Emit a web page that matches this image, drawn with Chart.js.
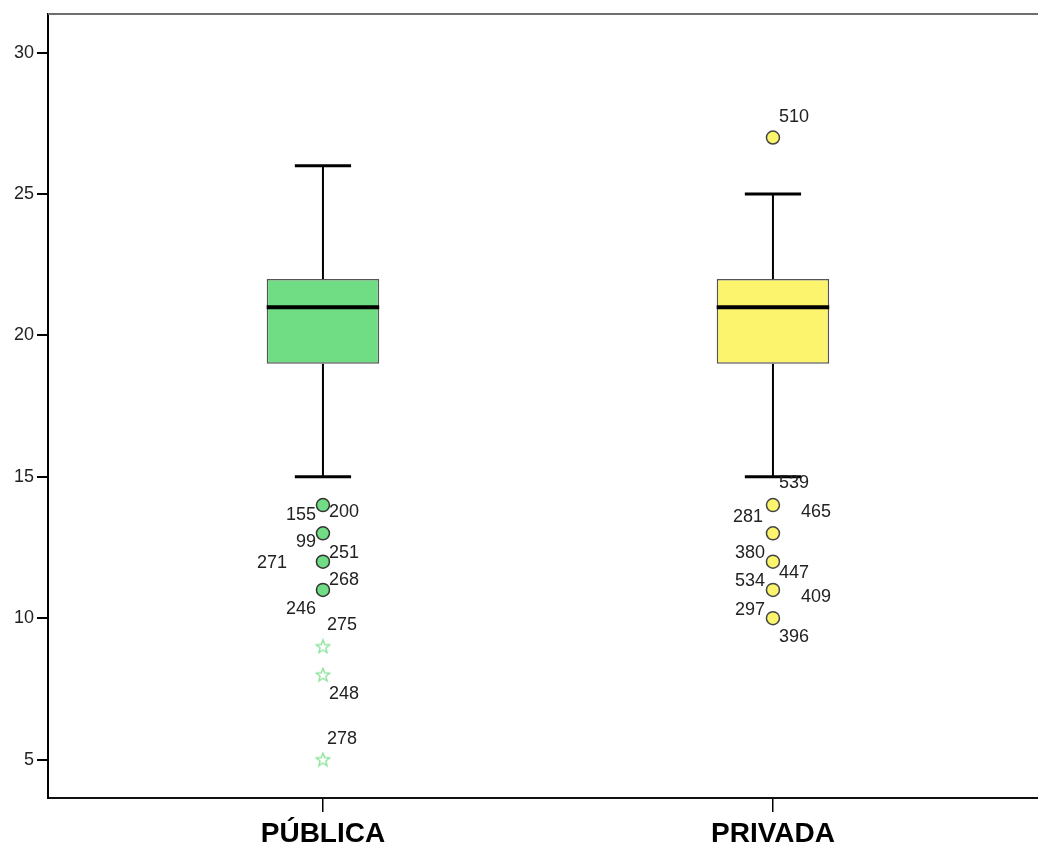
<!DOCTYPE html>
<html>
<head>
<meta charset="utf-8">
<script src="https://cdn.jsdelivr.net/npm/chart.js@4/dist/chart.umd.min.js"></script>
<style>
  body { margin: 0; background: #fff; }
  #caixa { width: 1038px; height: 846px; }
</style>
</head>
<body>
<div id="caixa"><canvas id="grafico"></canvas></div>
<script>
// Dados do boxplot
const categorias = ["PÚBLICA", "PRIVADA"];
const posicoes = [1, 2];
const bigodeInf = [15, 15];
const q1 = [19, 19];
const mediana = [21, 21];
const q3 = [22, 22];
const bigodeSup = [26, 25];
const ticksY = [5, 10, 15, 20, 25, 30];

// valores atípicos (círculos) e extremos (estrelas)
const atipicosPublica = [14, 13, 12, 11];
const extremosPublica = [9, 8, 5];
const atipicosPrivada = [27, 14, 13, 12, 11, 10];

// números dos casos e o valor em que aparecem
const casosPublica = ["155", "200", "99", "251", "271", "268", "246", "275", "248", "278"];
const valoresCasosPublica = [14, 14, 13, 12, 12, 11, 11, 9, 8, 5];
const casosPrivada = ["510", "539", "281", "465", "380", "447", "534", "409", "297", "396"];
const valoresCasosPrivada = [27, 14, 14, 14, 12, 12, 11, 11, 10, 10];

// posição dos rótulos em relação ao ponto: [dx, alinhamento, dy]
const deslocPublica = [
  [-7, "right", 10], [6, "left", 7], [-7, "right", 9], [6, "left", -9], [-36, "right", 1],
  [6, "left", -10], [-7, "right", 19], [4, "left", -21], [6, "left", 19], [4, "left", -21]
];
const deslocPrivada = [
  [6, "left", -21], [6, "left", -22], [-10, "right", 12], [28, "left", 7], [-8, "right", -9],
  [6, "left", 11], [-8, "right", -9], [28, "left", 7], [-8, "right", -8], [6, "left", 19]
];

const VERDE = "#70dc84";
const AMARELO = "#fbf46c";
const FONTE = '"Liberation Sans", Arial, sans-serif';

// estrela de 5 pontas só com contorno
function criarEstrela(cor) {
  const c = document.createElement("canvas");
  c.width = 16; c.height = 16;
  const g = c.getContext("2d");
  g.strokeStyle = cor;
  g.lineWidth = 1.4;
  g.beginPath();
  for (let i = 0; i < 10; i++) {
    const r = i % 2 === 0 ? 7 : 3;
    const a = -Math.PI / 2 + i * Math.PI / 5;
    const px = 8 + r * Math.cos(a), py = 8.5 + r * Math.sin(a);
    if (i === 0) g.moveTo(px, py); else g.lineTo(px, py);
  }
  g.closePath();
  g.stroke();
  return c;
}

const pluginBoxplot = {
  id: "boxplot",
  beforeDatasetsDraw(chart) {
    const { ctx, scales: { x, y } } = chart;
    const barras = chart.getDatasetMeta(0).data;
    ctx.save();
    ctx.strokeStyle = "#000";
    posicoes.forEach((p, i) => {
      const cx = x.getPixelForValue(p);
      const meia = barras[i].width / 4;
      ctx.lineWidth = 2;
      ctx.beginPath();
      ctx.moveTo(cx, y.getPixelForValue(bigodeSup[i]));
      ctx.lineTo(cx, y.getPixelForValue(q3[i]));
      ctx.moveTo(cx, y.getPixelForValue(q1[i]));
      ctx.lineTo(cx, y.getPixelForValue(bigodeInf[i]));
      ctx.stroke();
      ctx.lineWidth = 3;
      ctx.beginPath();
      ctx.moveTo(cx - meia, y.getPixelForValue(bigodeSup[i]));
      ctx.lineTo(cx + meia, y.getPixelForValue(bigodeSup[i]));
      ctx.moveTo(cx - meia, y.getPixelForValue(bigodeInf[i]));
      ctx.lineTo(cx + meia, y.getPixelForValue(bigodeInf[i]));
      ctx.stroke();
    });
    ctx.restore();
  },
  afterDatasetsDraw(chart) {
    const { ctx, chartArea, scales: { x, y } } = chart;
    const barras = chart.getDatasetMeta(0).data;
    ctx.save();
    // medianas
    ctx.strokeStyle = "#000";
    ctx.lineWidth = 4;
    posicoes.forEach((p, i) => {
      const b = barras[i];
      const yy = y.getPixelForValue(mediana[i]);
      ctx.beginPath();
      ctx.moveTo(b.x - b.width / 2, yy);
      ctx.lineTo(b.x + b.width / 2, yy);
      ctx.stroke();
    });
    // linha de cima do quadro
    ctx.strokeStyle = "#6e6e6e";
    ctx.lineWidth = 2;
    ctx.beginPath();
    ctx.moveTo(chartArea.left, chartArea.top);
    ctx.lineTo(chart.width, chartArea.top);
    ctx.stroke();
    // rótulos dos casos
    ctx.fillStyle = "#222";
    ctx.font = "18px " + FONTE;
    ctx.textBaseline = "middle";
    const escrever = (casos, valores, desloc, pos) => {
      const cx = x.getPixelForValue(pos);
      casos.forEach((txt, i) => {
        const [dx, al, dy] = desloc[i];
        ctx.textAlign = al;
        ctx.fillText(txt, cx + dx, y.getPixelForValue(valores[i]) + dy);
      });
    };
    escrever(casosPublica, valoresCasosPublica, deslocPublica, posicoes[0]);
    escrever(casosPrivada, valoresCasosPrivada, deslocPrivada, posicoes[1]);
    ctx.restore();
  }
};

new Chart(document.getElementById("grafico"), {
  data: {
    datasets: [
      {
        type: "bar",
        data: posicoes.map((p, i) => ({ x: p, y: [q1[i], q3[i]] })),
        backgroundColor: [VERDE, AMARELO],
        borderColor: "#555",
        borderWidth: 1.5,
        borderSkipped: false,
        barPercentage: 0.25,
        categoryPercentage: 1
      },
      {
        type: "scatter",
        data: atipicosPublica.map(v => ({ x: posicoes[0], y: v })),
        pointRadius: 6.5,
        pointBackgroundColor: VERDE,
        pointBorderColor: "#333",
        pointBorderWidth: 1.5
      },
      {
        type: "scatter",
        data: extremosPublica.map(v => ({ x: posicoes[0], y: v })),
        pointStyle: criarEstrela("#8ee49c")
      },
      {
        type: "scatter",
        data: atipicosPrivada.map(v => ({ x: posicoes[1], y: v })),
        pointRadius: 6.5,
        pointBackgroundColor: AMARELO,
        pointBorderColor: "#444",
        pointBorderWidth: 1.5
      }
    ]
  },
  options: {
    responsive: true,
    maintainAspectRatio: false,
    animation: false,
    layout: { autoPadding: false, padding: { top: 14, left: 0, right: 0, bottom: 0 } },
    plugins: { legend: { display: false }, tooltip: { enabled: false } },
    scales: {
      x: {
        type: "linear",
        min: 0.389,
        max: 2.589,
        offset: false,
        afterBuildTicks: s => { s.ticks = posicoes.map(v => ({ value: v })); },
        afterFit: s => { s.height = 48; s.paddingRight = 0; s.paddingLeft = 0; },
        ticks: {
          callback: v => categorias[posicoes.indexOf(v)],
          font: { family: FONTE, size: 28, weight: "bold" },
          color: "#000",
          padding: 5,
          maxRotation: 0
        },
        grid: { offset: false, drawOnChartArea: false, drawTicks: true, tickLength: 14, tickColor: "#000", lineWidth: 1.5 },
        border: { display: true, color: "#111", width: 2 }
      },
      y: {
        min: 3.64,
        max: 31.37,
        afterBuildTicks: s => { s.ticks = ticksY.map(v => ({ value: v })); },
        afterFit: s => { s.width = 48; },
        ticks: {
          font: { family: FONTE, size: 18 },
          color: "#222",
          padding: 3
        },
        grid: { drawOnChartArea: false, drawTicks: true, tickLength: 11, tickColor: "#000", lineWidth: 2 },
        border: { display: true, color: "#000", width: 2 }
      }
    }
  },
  plugins: [pluginBoxplot]
});
</script>
</body>
</html>
